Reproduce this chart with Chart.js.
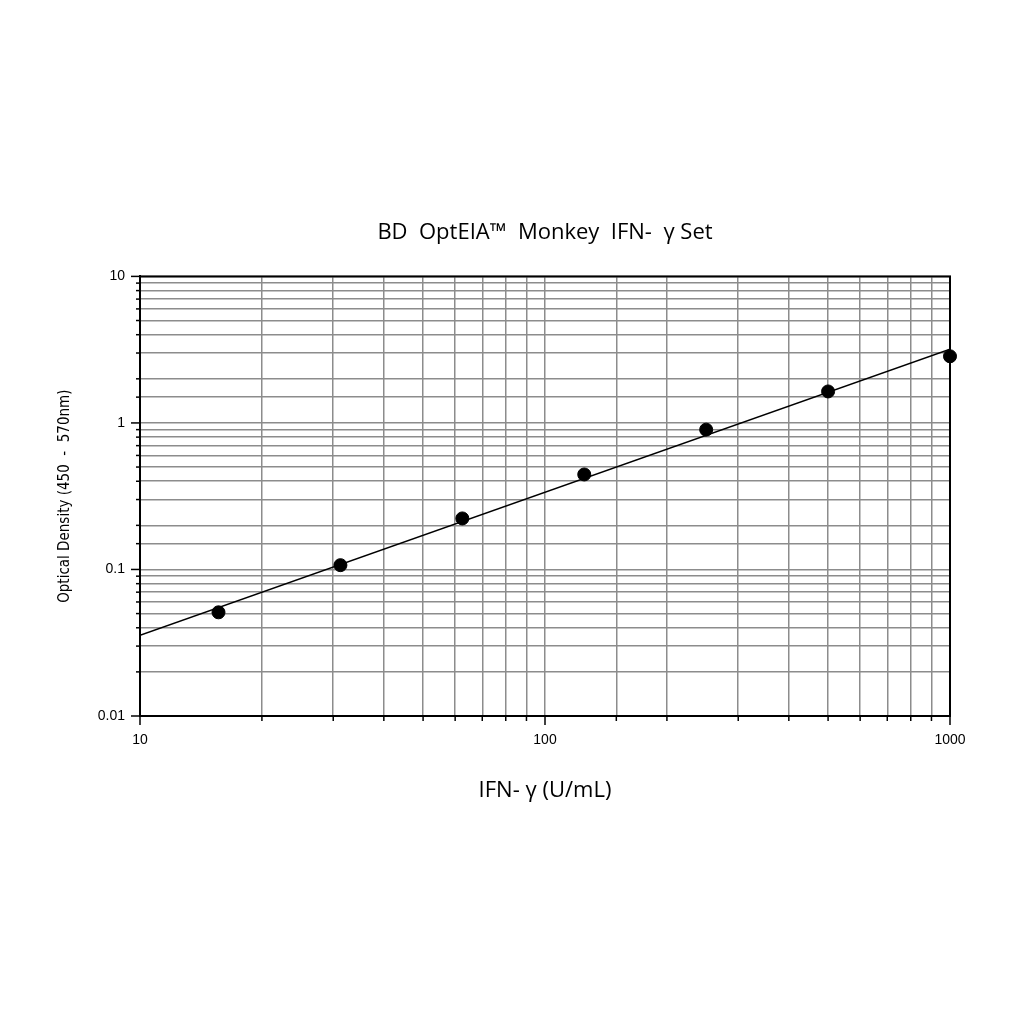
<!DOCTYPE html>
<html>
<head>
<meta charset="utf-8">
<script src="https://cdn.jsdelivr.net/npm/chart.js@4"></script>
<style>
  html, body { margin: 0; padding: 0; background: #fff; }
  #wrap { width: 1024px; height: 1024px; }
</style>
</head>
<body>
<div id="wrap"><canvas id="chart" width="1024" height="1024"></canvas></div>
<script>
// Concentrations of the standard curve (U/mL)
const concentrations = [15.625, 31.25, 62.5, 125, 250, 500, 1000];
// Optical density
const opticalDensity = [0.051, 0.107, 0.223, 0.445, 0.90, 1.64, 2.85];
// Fitted line end points
const fitX = [10, 1000];
const fitY = [0.0356, 3.18];
// Decade tick labels
const xTickLabels = [10, 100, 1000];
const yTickLabels = [0.01, 0.1, 1, 10];

const isDecade = v => Math.abs(Math.log10(v) - Math.round(Math.log10(v))) < 1e-6;

// cadre + petits traits des graduations
const framePlugin = {
  id: 'frame',
  afterDraw(chart) {
    const { ctx, chartArea: a, scales } = chart;
    ctx.save();
    ctx.strokeStyle = '#000';
    ctx.lineWidth = 2;
    ctx.strokeRect(a.left, a.top, a.right - a.left, a.bottom - a.top);
    ctx.lineWidth = 1.5;
    scales.x.ticks.forEach(t => {
      const px = scales.x.getPixelForValue(t.value);
      const len = isDecade(t.value) ? 9 : 5;
      ctx.beginPath();
      ctx.moveTo(px, a.bottom);
      ctx.lineTo(px, a.bottom + len);
      ctx.stroke();
    });
    scales.y.ticks.forEach(t => {
      const py = scales.y.getPixelForValue(t.value);
      const len = isDecade(t.value) ? 9 : 4;
      ctx.beginPath();
      ctx.moveTo(a.left, py);
      ctx.lineTo(a.left - len, py);
      ctx.stroke();
    });
    ctx.restore();
  }
};

new Chart(document.getElementById('chart'), {
  type: 'scatter',
  data: {
    datasets: [
      {
        label: 'Standards',
        data: concentrations.map((c, i) => ({ x: c, y: opticalDensity[i] })),
        backgroundColor: '#000',
        borderColor: '#000',
        pointRadius: 6.5,
        pointHoverRadius: 6.5,
        clip: false,
        order: 0
      },
      {
        label: 'Fit',
        type: 'line',
        data: fitX.map((x, i) => ({ x: x, y: fitY[i] })),
        borderColor: '#000',
        borderWidth: 1.5,
        pointRadius: 0,
        fill: false,
        order: 1
      }
    ]
  },
  options: {
    responsive: false,
    animation: false,
    layout: { padding: { left: 0, right: 74, top: 0, bottom: 208 } },
    plugins: {
      legend: { display: false },
      tooltip: { enabled: false },
      title: {
        display: true,
        fullSize: false,
        text: 'BD  OptEIA\u2122  Monkey  IFN-  \u03b3 Set',
        color: '#000',
        font: { family: '"Open Sans", sans-serif', size: 22, weight: 'normal', lineHeight: 1.2 },
        padding: { top: 220, bottom: 30 }
      }
    },
    scales: {
      x: {
        type: 'logarithmic',
        min: 10,
        max: 1000,
        border: { display: true, color: '#000', width: 2 },
        grid: { color: '#8c8c8c', lineWidth: 1.5, drawTicks: false },
        ticks: {
          autoSkip: false,
          maxRotation: 0,
          padding: 16,
          color: '#000',
          font: { family: '"Liberation Sans", Arial, sans-serif', size: 14 },
          callback: v => xTickLabels.includes(v) ? String(v) : ''
        },
        title: {
          display: true,
          text: 'IFN- \u03b3 (U/mL)',
          color: '#000',
          font: { family: '"Open Sans", sans-serif', size: 22, lineHeight: 1.2 },
          padding: { top: 0, bottom: 12 }
        },
        afterFit: s => { s.height = 100; }
      },
      y: {
        type: 'logarithmic',
        min: 0.01,
        max: 10,
        border: { display: true, color: '#000', width: 2 },
        grid: { color: '#8c8c8c', lineWidth: 1.5, drawTicks: false },
        ticks: {
          autoSkip: false,
          padding: 15,
          color: '#000',
          font: { family: '"Liberation Sans", Arial, sans-serif', size: 14 },
          callback: v => yTickLabels.includes(v) ? String(v) : ''
        },
        title: {
          display: true,
          text: 'Optical Density (450  -  570nm)',
          color: '#000',
          font: { family: '"DejaVu Sans Condensed", "Liberation Sans Narrow", sans-serif', size: 15, lineHeight: 1.2 },
          padding: { top: 56, bottom: 0 }
        },
        afterFit: s => { s.width = 140; }
      }
    }
  },
  plugins: [framePlugin]
});
</script>
</body>
</html>
